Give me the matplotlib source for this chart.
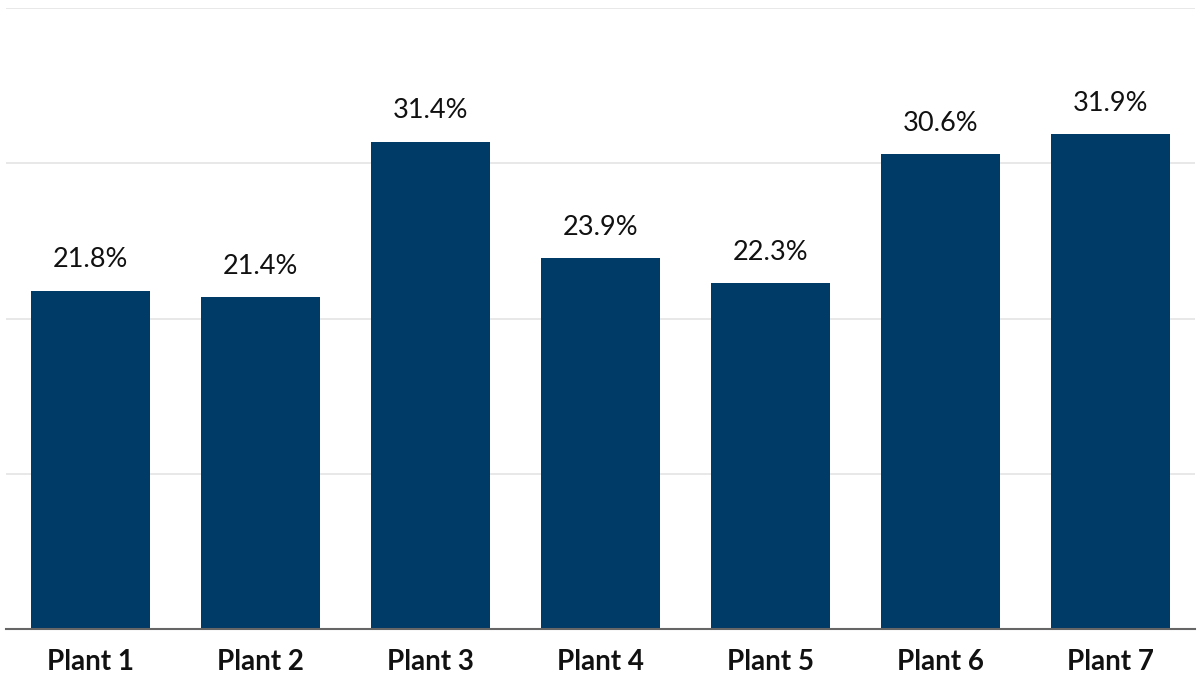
import matplotlib
matplotlib.use("Agg")
import matplotlib.pyplot as plt

plants = ["Plant 1", "Plant 2", "Plant 3", "Plant 4", "Plant 5", "Plant 6", "Plant 7"]
values = [21.8, 21.4, 31.4, 23.9, 22.3, 30.6, 31.9]
y_ticks = [0, 10, 20, 30, 40]

plt.rcParams["font.family"] = ["Lato", "DejaVu Sans"]

fig = plt.figure(figsize=(12, 6.75), dpi=100)
ax = fig.add_axes([6 / 1200, 46 / 675, 1189 / 1200, 621 / 675])

x = range(len(plants))
bars = ax.bar(x, values, width=0.7, color="#003a66", zorder=3)

for rect, v in zip(bars, values):
    ax.annotate(f"{v:.1f}%", (rect.get_x() + rect.get_width() / 2, v),
                xytext=(0, 13), textcoords="offset points",
                ha="center", va="bottom", fontsize=19.5, color="#111111")

ax.set_xlim(-0.5, len(plants) - 0.5)
ax.set_ylim(0, 40)
ax.set_yticks(y_ticks)
ax.yaxis.grid(True, color="#e6e6e6", linewidth=1.3, zorder=0)
ax.tick_params(axis="y", left=False, labelleft=False)
ax.tick_params(axis="x", bottom=False, pad=11)
ax.set_xticks(list(x))
ax.set_xticklabels(plants, fontsize=20, fontweight="bold", color="#111111")

for side in ("top", "right", "left"):
    ax.spines[side].set_visible(False)
ax.spines["bottom"].set_color("#666666")
ax.spines["bottom"].set_linewidth(1.5)
ax.spines["bottom"].set_zorder(4)

fig.savefig("out.png", dpi=100)
